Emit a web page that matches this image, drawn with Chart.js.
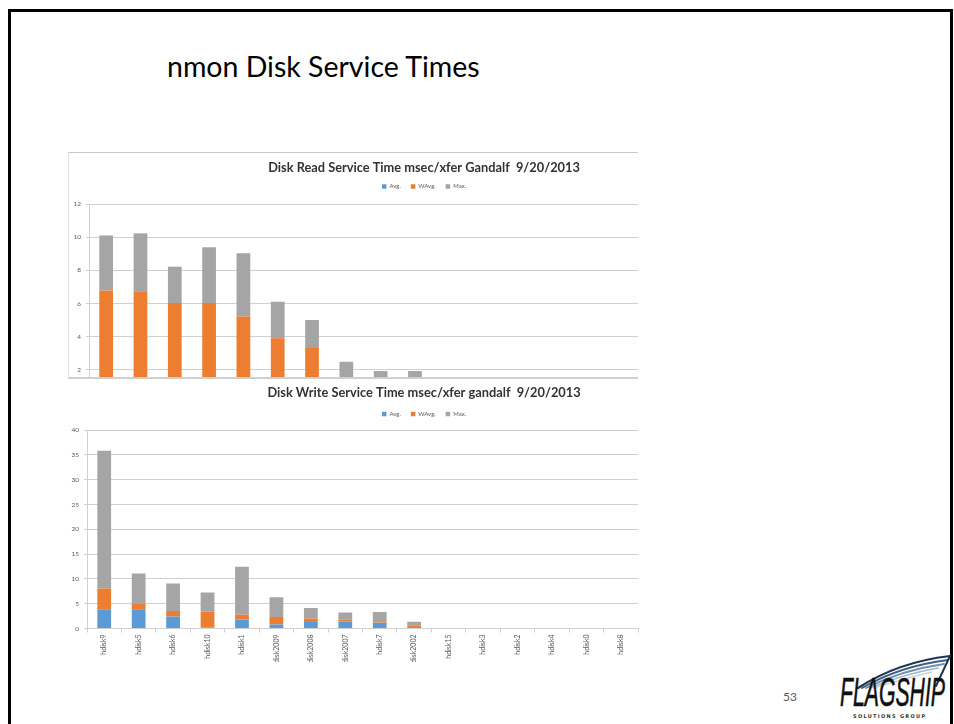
<!DOCTYPE html>
<html>
<head>
<meta charset="utf-8">
<script src="https://cdn.jsdelivr.net/npm/chart.js@4"></script>
<style>
html,body{margin:0;padding:0;background:#fff;width:954px;height:724px;overflow:hidden;font-family:Lato,'Liberation Sans',sans-serif}
#frame{position:absolute;left:8px;top:9px;width:939px;height:760px;border:3px solid #000;border-bottom:none}
#slideTitle{position:absolute;left:167px;top:49px;font-size:28.5px;color:#000;white-space:nowrap}
#topBox{position:absolute;left:68px;top:152px;width:570px;height:227px;border-top:1px solid #c8c8c8;border-left:1px solid #e0e0e0;border-bottom:2px solid #cfcfcf;box-sizing:border-box;pointer-events:none}
#readWrap{position:absolute;left:68px;top:152px;width:712px;height:226px}
#writeWrap{position:absolute;left:68px;top:380px;width:712px;height:282px}
#pageNum{position:absolute;left:783px;top:689px;font-size:12px;color:#595959}
#logo{position:absolute;left:826px;top:652px}
</style>
</head>
<body>
<div id="frame"></div>
<div id="slideTitle">nmon Disk Service Times</div>
<div id="readWrap"><canvas id="readChart" width="712" height="226"></canvas></div>
<div id="topBox"></div>
<div id="writeWrap"><canvas id="writeChart" width="712" height="282"></canvas></div>
<div id="pageNum">53</div>
<svg id="logo" width="128" height="72" viewBox="0 0 128 72">
  <g fill="none" stroke-linecap="round">
    <path d="M32 36 Q72 10 124 4" stroke="#1f3550" stroke-width="2.2"/>
    <path d="M36 36 Q74 14 122 8" stroke="#3d5f82" stroke-width="2"/>
    <path d="M40 36 Q76 18 118 12" stroke="#6f8fae" stroke-width="1.8"/>
    <path d="M44 36 Q78 22 112 16" stroke="#9fb6cc" stroke-width="1.6"/>
    <path d="M48 36 Q80 26 106 20" stroke="#c5d3e0" stroke-width="1.4"/>
    <path d="M124 4 L110 34" stroke="#1f3550" stroke-width="2"/>
  </g>
  <text x="14" y="54" font-family="'Liberation Sans Narrow','Liberation Sans',sans-serif" font-size="40" font-style="italic" fill="#111" stroke="#111" stroke-width="0.6" textLength="105" lengthAdjust="spacingAndGlyphs">FLAGSHIP</text>
  <text x="27" y="66" font-family="'DejaVu Sans',sans-serif" font-size="5" font-weight="bold" fill="#333" letter-spacing="1.3">SOLUTIONS GROUP</text>
</svg>
<script>
// categories
const diskLabels = ['hdisk9','hdisk5','hdisk6','hdisk10','hdisk1','hdisk2009','hdisk2008','hdisk2007','hdisk7','hdisk2002','hdisk15','hdisk3','hdisk2','hdisk4','hdisk0','hdisk8'];
const seriesNames = ['Avg.','WAvg.','Max.'];

// read service time, msec/xfer (stacked segments)
const readAvg  = [1.1, 1.0, 1.0, 1.0, 0.9, 0.8, 0.7, 0.5, 0.4, 0.4, 0, 0, 0, 0, 0, 0];
const readWAvg = [5.68, 5.7, 5.02, 5.02, 4.31, 3.1, 2.66, 0.7, 0.5, 0.5, 0, 0, 0, 0, 0, 0];
const readMax  = [3.32, 3.53, 2.2, 3.37, 3.82, 2.2, 1.64, 1.28, 1.02, 1.02, 0, 0, 0, 0, 0, 0];
const readTicks = [2, 4, 6, 8, 10, 12];

// write service time, msec/xfer (stacked segments)
const writeAvg  = [3.9, 3.9, 2.4, 0.2, 1.8, 0.8, 1.3, 1.4, 1.1, 0.1, 0, 0, 0, 0, 0, 0];
const writeWAvg = [4.15, 1.05, 1.15, 3.2, 0.95, 1.5, 0.7, 0.35, 0.1, 0.45, 0, 0, 0, 0, 0, 0];
const writeMax  = [27.75, 6.15, 5.5, 3.85, 9.7, 4.0, 2.15, 1.45, 2.15, 0.8, 0, 0, 0, 0, 0, 0];
const writeTicks = [0, 5, 10, 15, 20, 25, 30, 35, 40];

const colors = ['#5B9BD5', '#ED7D31', '#A5A5A5'];
const gridColor = '#d0d0d0';
const tickColor = '#595959';

function makeChart(id, cfg){
  const datasets = cfg.series.map((d,i)=>({
    label: seriesNames[i], data: d, backgroundColor: colors[i],
    barPercentage: 0.4, categoryPercentage: 1, stack: 's'
  }));
  return new Chart(document.getElementById(id), {
    type: 'bar',
    data: { labels: diskLabels, datasets },
    options: {
      responsive: false, animation: false,
      layout: { padding: 0 },
      plugins: {
        title: { display: true, text: cfg.title, color: '#333',
          font: { family: 'Lato', size: 12.8, weight: 'bold', lineHeight: 0.9 },
          padding: cfg.titlePad },
        legend: { position: 'top',
          labels: { boxWidth: 4.5, boxHeight: 4.5, padding: 10, color: '#595959',
            font: { family: 'Lato', size: 6 } } },
        tooltip: { enabled: false }
      },
      scales: {
        x: {
          display: cfg.showX, stacked: true,
          grid: { display: true, drawOnChartArea: false, tickLength: 4, color: gridColor },
          border: { color: gridColor },
          ticks: { color: tickColor, font: { family: 'Lato', size: 7 }, minRotation: 90, maxRotation: 90, autoSkip: false, padding: 2 },
          afterFit: s => { if (cfg.xHeight) s.height = cfg.xHeight; }
        },
        gap: {
          position: 'top', display: true,
          grid: { display: false }, border: { display: false }, ticks: { display: false },
          afterFit: s => { s.height = cfg.gap; }
        },
        y: {
          stacked: true, min: cfg.min, max: cfg.max,
          grid: { color: gridColor, tickLength: 3 },
          border: { color: gridColor },
          ticks: { color: tickColor, font: { family: 'Lato', size: 6.5 }, padding: 5 },
          afterBuildTicks: s => { s.ticks = cfg.ticks.map(v => ({ value: v })); },
          afterFit: s => { s.width = cfg.yWidth; s.paddingTop = 0; s.paddingBottom = 0; }
        },
        filler: {
          position: 'right', display: true,
          grid: { display: false }, border: { display: false }, ticks: { display: false },
          afterFit: s => { s.width = 142; }
        }
      }
    }
  });
}

makeChart('readChart', {
  title: 'Disk Read Service Time msec/xfer Gandalf  9/20/2013',
  series: [readAvg, readWAvg, readMax],
  min: 1.5, max: 12, ticks: readTicks, yWidth: 21, showX: false, gap: 4.5,
  titlePad: { top: 10, bottom: 0 }
});

makeChart('writeChart', {
  title: 'Disk Write Service Time msec/xfer gandalf  9/20/2013',
  series: [writeAvg, writeWAvg, writeMax],
  min: 0, max: 40, ticks: writeTicks, yWidth: 19, showX: true, xHeight: 33.5, gap: 3,
  titlePad: { top: 7.2, bottom: 2.3 }
});
</script>
</body>
</html>
